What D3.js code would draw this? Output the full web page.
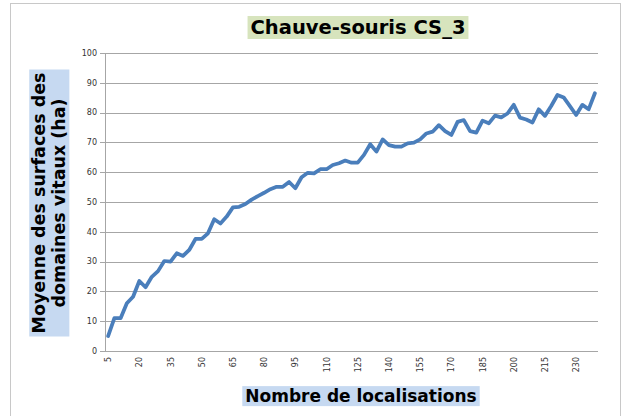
<!DOCTYPE html>
<html>
<head>
<meta charset="utf-8">
<script src="https://cdn.jsdelivr.net/npm/d3@7/dist/d3.min.js"></script>
<style>
  body { margin: 0; background: #fff; }
  svg { display: block; }
</style>
</head>
<body>
<script>
// nombre de localisations (x) : 5, 8, 11, ... 239
var localisations = [5,8,11,14,17,20,23,26,29,32,35,38,41,44,47,50,53,56,59,62,
  65,68,71,74,77,80,83,86,89,92,95,98,101,104,107,110,113,116,119,122,
  125,128,131,134,137,140,143,146,149,152,155,158,161,164,167,170,173,176,179,182,
  185,188,191,194,197,200,203,206,209,212,215,218,221,224,227,230,233,236,239];

// moyenne des surfaces des domaines vitaux (ha)
var moyennes = [5.0,11.0,11.0,16.0,18.2,23.5,21.4,24.9,26.8,30.2,30.0,32.8,31.9,33.9,37.6,37.6,39.5,44.2,42.8,45.1,
  48.2,48.4,49.3,50.8,52.0,53.1,54.3,55.1,55.1,56.7,54.6,58.3,59.8,59.6,61.0,61.0,62.4,63.0,63.9,63.2,
  63.2,65.8,69.4,66.9,71.0,69.1,68.6,68.6,69.7,69.9,71.0,73.0,73.6,75.8,73.8,72.5,76.9,77.5,73.8,73.3,
  77.3,76.4,79.0,78.4,79.7,82.6,78.3,77.7,76.7,81.1,78.9,82.2,85.9,85.1,82.2,79.2,82.6,81.1,86.5];

var yTicks = [0,10,20,30,40,50,60,70,80,90,100];
var xLabels = [5,20,35,50,65,80,95,110,125,140,155,170,185,200,215,230];

var titre = 'Chauve-souris CS_3';
var titreY = ['Moyenne des surfaces des', 'domaines vitaux (ha)'];
var titreX = 'Nombre de localisations';

var W = 630, H = 416;
var plot = {left: 105, right: 598, top: 53, bottom: 351};

var svg = d3.select('body').append('svg')
  .attr('width', W).attr('height', H);

// cadre du graphique
svg.append('rect')
  .attr('x', 10.5).attr('y', 3.5)
  .attr('width', 610).attr('height', 420)
  .attr('fill', '#fff')
  .attr('stroke', '#c8c8c8');

var x = d3.scaleBand()
  .domain(localisations)
  .range([plot.left, plot.right])
  .padding(0);

var y = d3.scaleLinear()
  .domain([0, 100])
  .range([plot.bottom, plot.top]);

// quadrillage
svg.append('g').selectAll('line')
  .data(yTicks)
  .join('line')
  .attr('x1', plot.left - 5).attr('x2', plot.right)
  .attr('y1', function(d) { return Math.round(y(d)) + 0.5; })
  .attr('y2', function(d) { return Math.round(y(d)) + 0.5; })
  .attr('stroke', '#a6a6a6')
  .attr('stroke-width', 1);

// axe vertical
svg.append('line')
  .attr('x1', plot.left + 0.5).attr('x2', plot.left + 0.5)
  .attr('y1', plot.top).attr('y2', plot.bottom)
  .attr('stroke', '#a6a6a6');

// libelles y
svg.append('g').selectAll('text')
  .data(yTicks)
  .join('text')
  .attr('x', plot.left - 8)
  .attr('y', function(d) { return y(d); })
  .attr('dy', '0.35em')
  .attr('text-anchor', 'end')
  .attr('font-family', 'DejaVu Sans, Verdana, sans-serif')
  .attr('font-size', 8)
  .attr('fill', '#333')
  .text(function(d) { return d; });

// libelles x (verticaux)
svg.append('g').selectAll('text')
  .data(xLabels)
  .join('text')
  .attr('transform', function(d) {
    var cx = x(d) + x.bandwidth() / 2;
    return 'translate(' + (cx + 3) + ',' + (plot.bottom + 6) + ') rotate(-90)';
  })
  .attr('text-anchor', 'end')
  .attr('font-family', 'DejaVu Sans, Verdana, sans-serif')
  .attr('font-size', 8)
  .attr('fill', '#333')
  .text(function(d) { return d; });

// courbe
var line = d3.line()
  .x(function(d, i) { return x(localisations[i]) + x.bandwidth() / 2; })
  .y(function(d) { return y(d); });

svg.append('path')
  .datum(moyennes)
  .attr('d', line)
  .attr('fill', 'none')
  .attr('stroke', '#4a7ebb')
  .attr('stroke-width', 3.75)
  .attr('stroke-linejoin', 'round')
  .attr('stroke-linecap', 'round');

// titres avec fond colore
function boxedText(g, lines, fs, bg) {
  var t = g.append('text')
    .attr('font-family', 'DejaVu Sans, Verdana, sans-serif')
    .attr('font-weight', 'bold')
    .attr('font-size', fs)
    .attr('text-anchor', 'middle')
    .attr('fill', '#000');
  lines.forEach(function(s, i) {
    t.append('tspan')
      .attr('x', 0)
      .attr('y', (i - (lines.length - 1) / 2) * fs * 1.15)
      .attr('dy', '0.36em')
      .text(s);
  });
  var b = t.node().getBBox();
  g.insert('rect', 'text')
    .attr('x', b.x - 3).attr('y', b.y)
    .attr('width', b.width + 6).attr('height', b.height)
    .attr('fill', bg);
}

var gt = svg.append('g').attr('transform', 'translate(358,27)');
boxedText(gt, [titre], 19.5, '#d7e4bd');

var gy = svg.append('g').attr('transform', 'translate(49,203) rotate(-90)');
boxedText(gy, titreY, 17.5, '#c6d9f1');

var gx = svg.append('g').attr('transform', 'translate(361,396)');
boxedText(gx, [titreX], 17, '#c6d9f1');
</script>
</body>
</html>
